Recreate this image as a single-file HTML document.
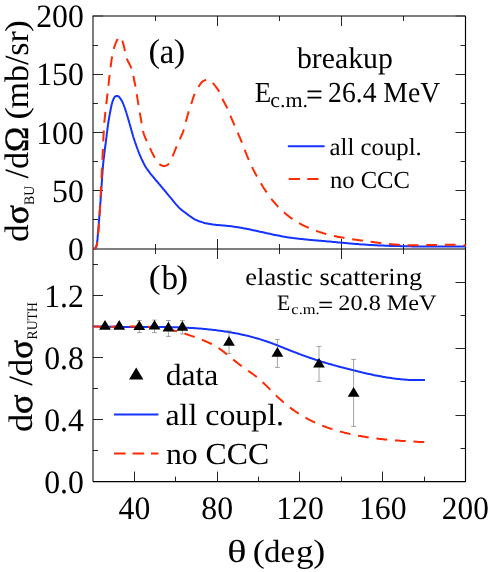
<!DOCTYPE html>
<html><head><meta charset="utf-8"><title>chart</title>
<style>html,body{margin:0;padding:0;background:#fff}svg{display:block;will-change:transform;opacity:0.999}</style></head>
<body>
<svg width="490" height="572" viewBox="0 0 490 572" font-family="'Liberation Serif', serif" fill="#000" text-rendering="geometricPrecision">
<rect width="490" height="572" fill="#fff"/>
<path d="M93.0,219.5H98.0M460.5,219.5H465.5M93.0,190.5H103.0M455.5,190.5H465.5M93.0,161.5H98.0M460.5,161.5H465.5M93.0,132.5H103.0M455.5,132.5H465.5M93.0,103.5H98.0M460.5,103.5H465.5M93.0,74.5H103.0M455.5,74.5H465.5M93.0,45.5H98.0M460.5,45.5H465.5M93.0,450.5H98.0M93.0,419.5H103.0M93.0,388.5H98.0M93.0,357.5H103.0M93.0,326.5H98.0M93.0,295.5H103.0M93.0,264.5H98.0M455.5,282.5H465.5M460.5,315.5H465.5M455.5,348.5H465.5M460.5,381.5H465.5M455.5,415.5H465.5M460.5,448.5H465.5M155.5,16.0V21.0M155.5,244.0V254.0M217.5,16.0V26.0M217.5,239.0V259.0M279.5,16.0V21.0M279.5,244.0V254.0M341.5,16.0V26.0M341.5,239.0V259.0M403.5,16.0V21.0M403.5,244.0V254.0M134.5,471.6V481.6M175.5,476.6V481.6M217.5,471.6V481.6M258.5,476.6V481.6M299.5,471.6V481.6M341.5,476.6V481.6M382.5,471.6V481.6M424.5,476.6V481.6" stroke="#000" stroke-width="0.85" fill="none"/>
<path d="M93.0,16.0H103.0M455.5,16.0H465.5" stroke="#000" stroke-width="1" opacity="0.55" fill="none"/>
<path d="M93.0,481.6V16.0H465.5M93.0,249.0H465.5" stroke="#000" stroke-width="1.02" fill="none"/>
<path d="M465.5,16.0V481.6H93.0" stroke="#000" stroke-width="1.15" fill="none"/>
<g fill="none" stroke-width="2" stroke-linejoin="round">
<path d="M93.5,248.6 L94.6,248.5 L95.4,248.2 L96.0,247.5 L96.4,246.4 L96.6,245.5 L96.8,244.5 L97.0,243.5 L97.1,242.5 L97.2,241.5 L97.4,240.5 L97.5,239.5 L97.6,238.5 L97.6,237.5 L97.7,236.5 L97.8,235.5 L97.9,234.5 L98.0,233.5 L98.0,232.5 L98.1,231.5 L98.2,230.5 L98.3,229.5 L98.4,228.5 L98.4,227.5 L98.5,226.5 L98.6,225.5 L98.7,224.5 L98.8,223.5 L98.8,222.5 L98.9,221.6 L99.0,220.6 L99.1,219.6 L99.2,218.6 L99.2,217.6 L99.3,216.6 L99.4,215.6 L99.5,214.6 L99.6,213.6 L99.6,212.6 L99.7,211.6 L99.8,210.6 L99.9,209.6 L100.0,208.6 L100.0,207.6 L100.1,206.6 L100.2,205.6 L100.3,204.6 L100.3,203.6 L100.4,202.6 L100.5,201.6 L100.6,200.6 L100.6,199.6 L100.7,198.6 L100.8,197.6 L100.8,196.6 L100.9,195.6 L101.0,194.6 L101.0,193.6 L101.1,192.6 L101.2,191.6 L101.2,190.6 L101.3,189.6 L101.4,188.6 L101.5,187.6 L101.5,186.6 L101.6,185.6 L101.7,184.7 L101.7,183.7 L101.8,182.7 L101.9,181.7 L101.9,180.7 L102.0,179.7 L102.1,178.7 L102.1,177.7 L102.2,176.7 L102.3,175.7 L102.3,174.7 L102.4,173.7 L102.5,172.7 L102.5,171.7 L102.6,170.7 L102.7,169.7 L102.8,168.7 L102.9,167.7 L102.9,166.7 L103.0,165.7 L103.1,164.7 L103.2,163.7 L103.3,162.7 L103.4,161.7 L103.5,160.7 L103.6,159.7 L103.7,158.7 L103.9,157.7 L104.0,156.8 L104.1,155.8 L104.2,154.8 L104.3,153.8 L104.4,152.8 L104.6,151.8 L104.7,150.8 L104.8,149.8 L104.9,148.8 L105.1,147.8 L105.2,146.8 L105.3,145.8 L105.5,144.8 L105.6,143.9 L105.7,142.9 L105.9,141.9 L106.0,140.9 L106.1,139.9 L106.2,138.9 L106.3,137.9 L106.5,136.9 L106.6,135.9 L106.7,134.9 L106.8,133.9 L106.9,132.9 L107.1,131.9 L107.2,131.0 L107.3,130.0 L107.5,129.0 L107.6,128.0 L107.7,127.0 L107.9,126.0 L108.0,125.0 L108.1,124.0 L108.3,123.0 L108.4,122.0 L108.6,121.0 L108.7,120.1 L108.9,119.1 L109.1,118.1 L109.2,117.1 L109.4,116.1 L109.6,115.1 L109.8,114.1 L109.9,113.2 L110.1,112.2 L110.3,111.2 L110.5,110.2 L110.7,109.2 L110.9,108.2 L111.1,107.3 L111.3,106.3 L111.5,105.3 L111.7,104.3 L112.0,103.4 L112.3,102.4 L112.6,101.4 L112.9,100.5 L113.3,99.6 L113.7,98.7 L114.2,97.8 L114.7,96.9 L115.5,96.3 L116.4,95.9 L117.4,95.9 L118.3,96.3 L119.1,96.9 L119.7,97.7 L120.3,98.5 L120.9,99.3 L121.4,100.2 L121.9,101.1 L122.4,102.0 L122.8,102.9 L123.2,103.8 L123.6,104.7 L123.9,105.6 L124.3,106.6 L124.6,107.5 L125.0,108.5 L125.3,109.4 L125.6,110.4 L125.9,111.3 L126.2,112.3 L126.5,113.2 L126.8,114.2 L127.1,115.1 L127.4,116.1 L127.7,117.1 L128.0,118.0 L128.2,119.0 L128.5,119.9 L128.8,120.9 L129.1,121.9 L129.3,122.8 L129.6,123.8 L129.9,124.7 L130.2,125.7 L130.4,126.7 L130.7,127.6 L131.0,128.6 L131.2,129.6 L131.5,130.5 L131.8,131.5 L132.0,132.4 L132.3,133.4 L132.6,134.4 L132.9,135.3 L133.1,136.3 L133.4,137.2 L133.7,138.2 L134.0,139.2 L134.4,140.1 L134.7,141.0 L135.0,142.0 L135.3,142.9 L135.7,143.9 L136.0,144.8 L136.3,145.8 L136.7,146.7 L137.0,147.6 L137.4,148.6 L137.7,149.5 L138.1,150.5 L138.4,151.4 L138.8,152.3 L139.1,153.3 L139.5,154.2 L139.9,155.1 L140.3,156.0 L140.7,157.0 L141.1,157.9 L141.5,158.8 L141.9,159.7 L142.3,160.6 L142.8,161.5 L143.2,162.4 L143.7,163.3 L144.1,164.2 L144.6,165.1 L145.1,165.9 L145.6,166.8 L146.1,167.6 L146.7,168.5 L147.3,169.3 L147.8,170.1 L148.4,170.9 L149.0,171.7 L149.6,172.5 L150.2,173.3 L150.8,174.1 L151.5,174.9 L152.1,175.7 L152.7,176.4 L153.4,177.2 L154.0,178.0 L154.6,178.7 L155.3,179.5 L155.9,180.3 L156.6,181.0 L157.3,181.8 L157.9,182.5 L158.6,183.3 L159.2,184.1 L159.9,184.8 L160.5,185.6 L161.1,186.4 L161.8,187.1 L162.4,187.9 L163.0,188.7 L163.7,189.4 L164.3,190.2 L165.0,191.0 L165.6,191.7 L166.2,192.5 L166.9,193.3 L167.5,194.1 L168.2,194.8 L168.8,195.6 L169.4,196.3 L170.1,197.1 L170.7,197.9 L171.4,198.7 L172.0,199.4 L172.6,200.2 L173.3,201.0 L173.9,201.8 L174.6,202.6 L175.2,203.3 L175.8,204.1 L176.5,204.9 L177.2,205.6 L177.8,206.3 L178.5,207.1 L179.2,207.8 L179.9,208.4 L180.7,209.1 L181.4,209.8 L182.2,210.4 L183.0,211.0 L183.8,211.6 L184.6,212.2 L185.4,212.8 L186.2,213.4 L187.0,214.0 L187.8,214.6 L188.6,215.2 L189.4,215.8 L190.3,216.4 L191.1,216.9 L191.9,217.5 L192.7,218.1 L193.6,218.6 L194.4,219.1 L195.3,219.6 L196.2,220.0 L197.1,220.4 L198.0,220.8 L199.0,221.2 L199.9,221.5 L200.9,221.8 L201.8,222.1 L202.8,222.4 L203.7,222.7 L204.7,223.0 L205.7,223.2 L206.6,223.4 L207.6,223.6 L208.6,223.8 L209.6,224.0 L210.6,224.1 L211.6,224.3 L212.6,224.4 L213.6,224.6 L214.5,224.7 L215.5,224.8 L216.5,224.9 L217.5,225.0 L218.5,225.1 L219.5,225.2 L220.5,225.3 L221.5,225.3 L222.5,225.4 L223.5,225.5 L224.5,225.6 L225.5,225.7 L226.5,225.8 L227.5,225.9 L228.5,226.0 L229.5,226.1 L230.5,226.2 L231.5,226.3 L232.5,226.4 L233.4,226.6 L234.4,226.7 L235.4,226.9 L236.4,227.0 L237.4,227.2 L238.4,227.3 L239.4,227.5 L240.4,227.7 L241.3,227.8 L242.3,228.0 L243.3,228.2 L244.3,228.4 L245.3,228.6 L246.3,228.8 L247.2,229.0 L248.2,229.1 L249.2,229.3 L250.2,229.6 L251.2,229.8 L252.1,230.0 L253.1,230.2 L254.1,230.4 L255.1,230.6 L256.0,230.8 L257.0,231.0 L258.0,231.2 L259.0,231.4 L260.0,231.7 L260.9,231.9 L261.9,232.1 L262.9,232.3 L263.9,232.5 L264.8,232.7 L265.8,233.0 L266.8,233.2 L267.8,233.4 L268.7,233.6 L269.7,233.8 L270.7,234.0 L271.7,234.2 L272.7,234.4 L273.6,234.7 L274.6,234.9 L275.6,235.1 L276.6,235.3 L277.6,235.5 L278.5,235.6 L279.5,235.8 L280.5,236.0 L281.5,236.2 L282.5,236.4 L283.4,236.6 L284.4,236.7 L285.4,236.9 L286.4,237.1 L287.4,237.2 L288.4,237.4 L289.4,237.5 L290.4,237.7 L291.4,237.8 L292.3,237.9 L293.3,238.1 L294.3,238.2 L295.3,238.3 L296.3,238.5 L297.3,238.6 L298.3,238.7 L299.3,238.8 L300.3,238.9 L301.3,239.0 L302.3,239.1 L303.3,239.2 L304.3,239.3 L305.3,239.4 L306.3,239.5 L307.2,239.6 L308.2,239.7 L309.2,239.8 L310.2,239.9 L311.2,240.0 L312.2,240.1 L313.2,240.2 L314.2,240.2 L315.2,240.3 L316.2,240.4 L317.2,240.5 L318.2,240.6 L319.2,240.7 L320.2,240.8 L321.2,240.8 L322.2,240.9 L323.2,241.0 L324.2,241.1 L325.2,241.2 L326.2,241.3 L327.2,241.4 L328.2,241.4 L329.2,241.5 L330.2,241.6 L331.2,241.7 L332.2,241.8 L333.1,241.9 L334.1,242.0 L335.1,242.1 L336.1,242.2 L337.1,242.3 L338.1,242.4 L339.1,242.5 L340.1,242.6 L341.1,242.7 L342.1,242.8 L343.1,242.8 L344.1,242.9 L345.1,243.0 L346.1,243.1 L347.1,243.2 L348.1,243.3 L349.1,243.4 L350.1,243.5 L351.1,243.6 L352.1,243.7 L353.1,243.7 L354.1,243.8 L355.1,243.9 L356.1,244.0 L357.0,244.1 L358.0,244.1 L359.0,244.2 L360.0,244.3 L361.0,244.4 L362.0,244.4 L363.0,244.5 L364.0,244.6 L365.0,244.6 L366.0,244.7 L367.0,244.8 L368.0,244.8 L369.0,244.9 L370.0,244.9 L371.0,245.0 L372.0,245.1 L373.0,245.1 L374.0,245.2 L375.0,245.2 L376.0,245.3 L377.0,245.3 L378.0,245.4 L379.0,245.4 L380.0,245.5 L381.0,245.5 L382.0,245.6 L383.0,245.6 L384.0,245.6 L385.0,245.7 L386.0,245.7 L387.0,245.8 L388.0,245.8 L389.0,245.8 L390.0,245.9 L391.0,245.9 L392.0,245.9 L393.0,246.0 L394.0,246.0 L395.0,246.0 L396.0,246.0 L397.0,246.1 L398.0,246.1 L399.0,246.1 L400.0,246.1 L401.0,246.2 L402.0,246.2 L403.0,246.2 L404.0,246.2 L405.0,246.2 L406.0,246.3 L407.0,246.3 L408.0,246.3 L409.0,246.3 L410.0,246.3 L411.0,246.3 L412.0,246.4 L413.0,246.4 L414.0,246.4 L415.0,246.4 L416.0,246.4 L417.0,246.4 L418.0,246.4 L419.0,246.4 L420.0,246.4 L421.0,246.4 L422.0,246.4 L423.0,246.5 L424.0,246.5 L425.0,246.5 L426.0,246.5 L427.0,246.5 L428.0,246.5 L429.0,246.5 L430.0,246.5 L431.0,246.5 L432.0,246.5 L433.0,246.5 L434.0,246.5 L435.0,246.5 L436.0,246.5 L437.0,246.5 L438.0,246.5 L439.0,246.5 L440.0,246.5 L441.0,246.5 L442.0,246.5 L443.0,246.5 L444.0,246.5 L445.0,246.5 L446.0,246.5 L447.0,246.5 L448.0,246.4 L449.0,246.4 L450.0,246.4 L451.0,246.4 L452.0,246.4 L453.0,246.4 L454.0,246.4 L455.0,246.4 L456.0,246.4 L457.0,246.4 L458.0,246.4 L459.0,246.4 L460.0,246.4 L461.0,246.4 L462.0,246.4 L463.0,246.4 L464.0,246.4 L465.0,246.4 L466.0,246.3" stroke="#1533ff"/>
<path d="M93.5,248.6 L94.6,248.5 L95.4,248.2 L96.0,247.5 L96.4,246.4 L96.6,245.5 L96.9,244.5 L97.1,243.5 L97.2,242.6 L97.4,241.6 L97.5,240.6 L97.6,239.5 L97.7,238.5 L97.8,237.5 L97.9,236.5 L98.0,235.5 L98.1,234.5 L98.2,233.5 L98.3,232.6 L98.4,231.6 L98.5,230.6 L98.6,229.6 L98.7,228.6 L98.8,227.6 L98.8,226.6 L98.9,225.6 L99.0,224.6 L99.0,223.6 L99.1,222.6 L99.2,221.6 L99.2,220.6 L99.3,219.6 L99.4,218.6 L99.4,217.6 L99.5,216.6 L99.6,215.6 L99.6,214.6 L99.7,213.6 L99.7,212.6 L99.8,211.6 L99.8,210.6 L99.9,209.6 L100.0,208.6 L100.0,207.6 L100.1,206.6 L100.1,205.6 L100.2,204.6 L100.3,203.6 L100.3,202.6 L100.4,201.6 L100.4,200.6 L100.5,199.6 L100.5,198.6 L100.6,197.6 L100.6,196.6 L100.7,195.6 L100.7,194.6 L100.8,193.6 L100.8,192.6 L100.9,191.6 L100.9,190.6 L101.0,189.6 L101.0,188.6 L101.1,187.6 L101.1,186.6 L101.2,185.6 L101.2,184.6 L101.2,183.6 L101.3,182.6 L101.3,181.6 L101.4,180.6 L101.4,179.6 L101.5,178.6 L101.5,177.6 L101.6,176.6 L101.6,175.6 L101.7,174.6 L101.7,173.6 L101.8,172.6 L101.8,171.6 L101.9,170.6 L101.9,169.7 L102.0,168.7 L102.0,167.7 L102.1,166.7 L102.1,165.7 L102.2,164.7 L102.2,163.7 L102.3,162.7 L102.3,161.7 L102.4,160.7 L102.4,159.7 L102.4,158.7 L102.5,157.7 L102.5,156.7 L102.6,155.7 L102.6,154.7 L102.7,153.7 L102.7,152.7 L102.8,151.7 L102.8,150.7 L102.9,149.7 L102.9,148.7 L102.9,147.7 L103.0,146.7 L103.0,145.7 L103.1,144.7 L103.1,143.7 L103.2,142.7 L103.2,141.7 L103.3,140.7 L103.3,139.7 L103.4,138.7 L103.4,137.7 L103.5,136.7 L103.5,135.7 L103.6,134.7 L103.7,133.7 L103.7,132.7 L103.8,131.7 L103.8,130.7 L103.9,129.7 L103.9,128.7 L104.0,127.7 L104.1,126.7 L104.1,125.7 L104.2,124.7 L104.3,123.7 L104.3,122.7 L104.4,121.7 L104.5,120.7 L104.6,119.7 L104.7,118.7 L104.8,117.7 L104.9,116.7 L105.0,115.7 L105.1,114.7 L105.2,113.8 L105.3,112.8 L105.4,111.8 L105.5,110.8 L105.6,109.8 L105.7,108.8 L105.8,107.8 L106.0,106.8 L106.1,105.8 L106.2,104.8 L106.3,103.8 L106.4,102.8 L106.6,101.8 L106.7,100.8 L106.8,99.8 L106.9,98.8 L107.0,97.9 L107.1,96.9 L107.2,95.9 L107.3,94.9 L107.5,93.9 L107.6,92.9 L107.7,91.9 L107.8,90.9 L107.9,89.9 L108.0,88.9 L108.1,87.9 L108.2,86.9 L108.3,85.9 L108.5,84.9 L108.6,83.9 L108.7,82.9 L108.8,82.0 L108.9,81.0 L109.0,80.0 L109.1,79.0 L109.3,78.0 L109.4,77.0 L109.5,76.0 L109.6,75.0 L109.7,74.0 L109.9,73.0 L110.0,72.0 L110.1,71.0 L110.2,70.0 L110.4,69.0 L110.5,68.1 L110.6,67.1 L110.7,66.1 L110.9,65.1 L111.0,64.1 L111.1,63.1 L111.3,62.1 L111.4,61.1 L111.5,60.1 L111.7,59.1 L111.9,58.1 L112.0,57.2 L112.2,56.2 L112.4,55.2 L112.6,54.2 L112.8,53.2 L113.0,52.3 L113.2,51.3 L113.4,50.3 L113.7,49.3 L114.0,48.4 L114.2,47.4 L114.5,46.4 L114.8,45.5 L115.2,44.6 L115.5,43.6 L115.9,42.7 L116.3,41.7 L116.7,40.8 L117.2,39.9 L117.7,39.1 L118.2,38.3 L118.9,37.5 L119.7,36.9 L120.6,37.0 L121.3,37.7 L121.7,38.6 L122.0,39.6 L122.3,40.6 L122.6,41.6 L122.9,42.5 L123.2,43.5 L123.4,44.4 L123.7,45.4 L123.9,46.4 L124.1,47.4 L124.4,48.3 L124.6,49.3 L124.8,50.3 L125.0,51.3 L125.2,52.3 L125.4,53.3 L125.7,54.2 L125.9,55.2 L126.1,56.2 L126.4,57.1 L126.7,58.1 L127.0,59.0 L127.3,59.9 L127.8,60.8 L128.2,61.7 L128.7,62.6 L129.2,63.5 L129.6,64.4 L130.1,65.3 L130.5,66.2 L130.9,67.1 L131.2,68.1 L131.5,69.0 L131.8,70.0 L132.0,70.9 L132.3,71.9 L132.6,72.8 L132.8,73.8 L133.0,74.8 L133.3,75.8 L133.5,76.8 L133.7,77.7 L133.9,78.7 L134.1,79.7 L134.3,80.7 L134.5,81.7 L134.7,82.7 L134.9,83.6 L135.1,84.6 L135.3,85.6 L135.5,86.6 L135.7,87.6 L135.8,88.6 L136.0,89.5 L136.2,90.5 L136.3,91.5 L136.5,92.5 L136.6,93.5 L136.8,94.5 L137.0,95.5 L137.1,96.5 L137.3,97.4 L137.4,98.4 L137.6,99.4 L137.7,100.4 L137.9,101.4 L138.1,102.4 L138.2,103.4 L138.4,104.4 L138.6,105.3 L138.7,106.3 L138.9,107.3 L139.1,108.3 L139.2,109.3 L139.4,110.3 L139.6,111.3 L139.7,112.2 L139.9,113.2 L140.1,114.2 L140.3,115.2 L140.4,116.2 L140.6,117.2 L140.8,118.2 L140.9,119.1 L141.1,120.1 L141.3,121.1 L141.4,122.1 L141.6,123.1 L141.8,124.1 L141.9,125.1 L142.1,126.1 L142.2,127.0 L142.4,128.0 L142.6,129.0 L142.8,130.0 L143.0,131.0 L143.2,131.9 L143.5,132.9 L143.8,133.8 L144.1,134.8 L144.4,135.7 L144.8,136.6 L145.2,137.6 L145.6,138.5 L146.0,139.4 L146.4,140.3 L146.8,141.2 L147.2,142.2 L147.7,143.1 L148.1,144.0 L148.5,144.9 L149.0,145.8 L149.4,146.7 L149.8,147.6 L150.2,148.5 L150.7,149.4 L151.1,150.3 L151.5,151.3 L151.9,152.2 L152.4,153.1 L152.8,154.0 L153.3,154.9 L153.8,155.8 L154.2,156.6 L154.7,157.5 L155.3,158.3 L155.8,159.2 L156.3,160.0 L156.9,160.9 L157.5,161.7 L158.1,162.6 L158.8,163.4 L159.5,164.1 L160.2,164.6 L161.0,165.1 L162.0,165.5 L163.0,165.9 L164.0,166.0 L164.9,165.9 L166.0,165.6 L166.9,165.2 L167.7,164.8 L168.3,164.1 L169.0,163.2 L169.5,162.3 L170.0,161.4 L170.5,160.6 L171.0,159.7 L171.4,158.8 L171.9,157.9 L172.3,157.0 L172.7,156.1 L173.1,155.2 L173.5,154.2 L173.8,153.3 L174.2,152.4 L174.6,151.4 L174.9,150.5 L175.3,149.6 L175.7,148.6 L176.1,147.7 L176.5,146.8 L176.9,145.9 L177.3,145.0 L177.7,144.1 L178.1,143.1 L178.6,142.2 L179.0,141.3 L179.4,140.4 L179.7,139.5 L180.1,138.6 L180.5,137.6 L181.0,136.7 L181.4,135.8 L181.8,134.9 L182.2,134.0 L182.6,133.1 L182.9,132.1 L183.3,131.2 L183.6,130.3 L183.9,129.3 L184.2,128.4 L184.4,127.4 L184.7,126.4 L184.9,125.4 L185.2,124.5 L185.4,123.5 L185.7,122.5 L185.9,121.6 L186.2,120.6 L186.4,119.6 L186.7,118.7 L186.9,117.7 L187.2,116.7 L187.5,115.8 L187.7,114.8 L188.0,113.8 L188.3,112.9 L188.6,111.9 L188.9,111.0 L189.2,110.0 L189.5,109.1 L189.8,108.1 L190.1,107.2 L190.4,106.2 L190.7,105.3 L191.1,104.3 L191.4,103.4 L191.7,102.4 L192.0,101.5 L192.3,100.5 L192.6,99.6 L192.9,98.6 L193.3,97.7 L193.6,96.7 L193.9,95.8 L194.3,94.8 L194.7,93.9 L195.1,93.0 L195.5,92.1 L196.0,91.2 L196.4,90.3 L196.9,89.4 L197.4,88.6 L197.9,87.7 L198.5,86.9 L199.0,86.0 L199.5,85.2 L200.1,84.3 L200.7,83.5 L201.4,82.7 L202.0,82.0 L202.8,81.4 L203.6,80.9 L204.6,80.4 L205.5,80.1 L206.5,79.9 L207.5,79.7 L208.5,79.7 L209.4,80.0 L210.3,80.5 L211.1,81.1 L211.8,81.8 L212.5,82.6 L213.1,83.4 L213.8,84.1 L214.4,84.9 L215.1,85.7 L215.7,86.5 L216.3,87.3 L216.9,88.1 L217.5,88.9 L218.0,89.7 L218.5,90.6 L219.0,91.4 L219.5,92.3 L219.9,93.2 L220.3,94.1 L220.7,95.0 L221.1,96.0 L221.5,96.9 L221.9,97.8 L222.3,98.7 L222.8,99.6 L223.2,100.5 L223.7,101.4 L224.2,102.3 L224.6,103.2 L225.1,104.0 L225.6,104.9 L226.1,105.8 L226.5,106.7 L227.0,107.6 L227.4,108.5 L227.8,109.4 L228.2,110.3 L228.6,111.2 L229.0,112.2 L229.3,113.1 L229.7,114.0 L230.1,114.9 L230.5,115.9 L230.9,116.8 L231.3,117.7 L231.6,118.6 L232.0,119.5 L232.4,120.5 L232.8,121.4 L233.2,122.3 L233.6,123.2 L234.0,124.1 L234.4,125.1 L234.8,126.0 L235.2,126.9 L235.6,127.8 L236.0,128.7 L236.4,129.6 L236.8,130.6 L237.2,131.5 L237.6,132.4 L238.0,133.3 L238.4,134.2 L238.8,135.1 L239.2,136.1 L239.6,137.0 L240.0,137.9 L240.4,138.8 L240.8,139.7 L241.1,140.7 L241.5,141.6 L241.9,142.5 L242.3,143.4 L242.7,144.4 L243.0,145.3 L243.4,146.2 L243.7,147.2 L244.1,148.1 L244.4,149.0 L244.8,150.0 L245.2,150.9 L245.5,151.8 L245.9,152.8 L246.2,153.7 L246.6,154.6 L247.0,155.6 L247.4,156.5 L247.7,157.4 L248.1,158.3 L248.5,159.2 L248.9,160.2 L249.3,161.1 L249.7,162.0 L250.1,162.9 L250.6,163.8 L251.0,164.7 L251.4,165.6 L251.8,166.5 L252.3,167.4 L252.7,168.4 L253.1,169.2 L253.6,170.1 L254.0,171.0 L254.5,171.9 L254.9,172.8 L255.4,173.7 L255.9,174.6 L256.4,175.5 L256.8,176.3 L257.3,177.2 L257.8,178.1 L258.3,178.9 L258.8,179.8 L259.3,180.7 L259.8,181.5 L260.3,182.4 L260.8,183.3 L261.4,184.1 L261.9,185.0 L262.4,185.8 L262.9,186.7 L263.4,187.5 L264.0,188.4 L264.5,189.2 L265.1,190.0 L265.6,190.9 L266.2,191.7 L266.8,192.5 L267.3,193.4 L267.9,194.2 L268.5,195.0 L269.1,195.8 L269.7,196.6 L270.3,197.4 L270.9,198.2 L271.5,199.0 L272.1,199.8 L272.7,200.5 L273.4,201.3 L274.0,202.1 L274.7,202.8 L275.3,203.6 L276.0,204.4 L276.6,205.1 L277.3,205.8 L278.0,206.6 L278.7,207.3 L279.4,208.0 L280.1,208.7 L280.8,209.4 L281.5,210.1 L282.3,210.8 L283.0,211.5 L283.7,212.1 L284.5,212.8 L285.3,213.4 L286.0,214.1 L286.8,214.7 L287.6,215.4 L288.4,216.0 L289.1,216.6 L289.9,217.2 L290.8,217.8 L291.6,218.4 L292.4,218.9 L293.2,219.5 L294.0,220.1 L294.9,220.6 L295.7,221.1 L296.6,221.7 L297.4,222.2 L298.3,222.7 L299.2,223.2 L300.0,223.7 L300.9,224.1 L301.8,224.6 L302.7,225.1 L303.6,225.5 L304.5,226.0 L305.4,226.4 L306.3,226.8 L307.2,227.2 L308.1,227.6 L309.0,228.0 L310.0,228.4 L310.9,228.8 L311.8,229.2 L312.7,229.6 L313.7,229.9 L314.6,230.3 L315.5,230.6 L316.5,230.9 L317.4,231.3 L318.4,231.6 L319.3,231.9 L320.3,232.2 L321.2,232.5 L322.2,232.8 L323.1,233.1 L324.1,233.4 L325.1,233.7 L326.0,233.9 L327.0,234.2 L328.0,234.5 L328.9,234.7 L329.9,235.0 L330.9,235.2 L331.8,235.4 L332.8,235.6 L333.8,235.9 L334.8,236.1 L335.7,236.3 L336.7,236.5 L337.7,236.7 L338.7,236.9 L339.7,237.1 L340.6,237.3 L341.6,237.5 L342.6,237.6 L343.6,237.8 L344.6,238.0 L345.6,238.2 L346.5,238.3 L347.5,238.5 L348.5,238.6 L349.5,238.8 L350.5,238.9 L351.5,239.1 L352.5,239.2 L353.5,239.4 L354.5,239.5 L355.4,239.7 L356.4,239.8 L357.4,239.9 L358.4,240.1 L359.4,240.2 L360.4,240.4 L361.4,240.5 L362.4,240.6 L363.4,240.8 L364.4,240.9 L365.4,241.0 L366.3,241.2 L367.3,241.3 L368.3,241.4 L369.3,241.6 L370.3,241.7 L371.3,241.8 L372.3,242.0 L373.3,242.1 L374.3,242.2 L375.3,242.4 L376.3,242.5 L377.2,242.6 L378.2,242.8 L379.2,242.9 L380.2,243.0 L381.2,243.1 L382.2,243.2 L383.2,243.4 L384.2,243.5 L385.2,243.6 L386.2,243.7 L387.2,243.8 L388.2,243.9 L389.2,244.0 L390.2,244.1 L391.2,244.2 L392.2,244.3 L393.1,244.4 L394.1,244.5 L395.1,244.6 L396.1,244.6 L397.1,244.7 L398.1,244.8 L399.1,244.8 L400.1,244.9 L401.1,245.0 L402.1,245.0 L403.1,245.0 L404.1,245.1 L405.1,245.1 L406.1,245.2 L407.1,245.2 L408.1,245.2 L409.1,245.2 L410.1,245.2 L411.1,245.3 L412.1,245.3 L413.1,245.3 L414.1,245.3 L415.1,245.3 L416.1,245.3 L417.1,245.3 L418.1,245.3 L419.1,245.3 L420.1,245.2 L421.1,245.2 L422.1,245.2 L423.1,245.2 L424.1,245.2 L425.1,245.2 L426.1,245.1 L427.1,245.1 L428.1,245.1 L429.1,245.1 L430.1,245.1 L431.1,245.0 L432.1,245.0 L433.1,245.0 L434.1,245.0 L435.1,244.9 L436.1,244.9 L437.1,244.9 L438.1,244.9 L439.1,244.9 L440.1,244.8 L441.1,244.8 L442.1,244.8 L443.1,244.8 L444.1,244.8 L445.1,244.8 L446.1,244.8 L447.1,244.8 L448.1,244.8 L449.1,244.8 L450.1,244.8 L451.1,244.8 L452.1,244.8 L453.1,244.8 L454.1,244.8 L455.1,244.8 L456.1,244.8 L457.1,244.9 L458.1,244.9 L459.1,244.9 L460.1,245.0 L461.1,245.0 L462.1,245.1 L463.1,245.1 L464.1,245.2 L465.1,245.2 L466.0,245.3" stroke="#ff2a00" stroke-dasharray="10.8 7.82" stroke-dashoffset="2.15"/>
<path d="M93.5,326.4 L94.5,326.4 L95.5,326.5 L96.5,326.5 L97.5,326.5 L98.5,326.6 L99.5,326.6 L100.5,326.6 L101.5,326.6 L102.5,326.6 L103.5,326.7 L104.5,326.7 L105.5,326.7 L106.5,326.7 L107.5,326.7 L108.5,326.8 L109.5,326.8 L110.5,326.8 L111.5,326.8 L112.5,326.8 L113.5,326.8 L114.5,326.8 L115.5,326.8 L116.5,326.8 L117.5,326.8 L118.5,326.8 L119.5,326.9 L120.5,326.9 L121.5,326.9 L122.5,326.9 L123.5,326.9 L124.5,326.9 L125.5,326.9 L126.5,326.9 L127.5,326.9 L128.5,326.9 L129.5,326.9 L130.5,326.9 L131.5,326.9 L132.5,326.9 L133.5,326.9 L134.5,326.9 L135.5,326.9 L136.5,326.9 L137.5,326.9 L138.5,326.9 L139.5,326.9 L140.5,326.9 L141.5,326.9 L142.5,326.9 L143.5,326.9 L144.5,326.9 L145.5,326.9 L146.5,326.9 L147.5,326.9 L148.5,326.9 L149.5,326.9 L150.5,326.9 L151.5,326.9 L152.5,326.9 L153.5,326.9 L154.5,326.9 L155.5,326.9 L156.5,326.9 L157.5,326.9 L158.5,327.0 L159.5,327.0 L160.5,327.0 L161.5,327.0 L162.5,327.0 L163.5,327.0 L164.5,327.0 L165.5,327.1 L166.5,327.1 L167.5,327.1 L168.5,327.1 L169.5,327.1 L170.5,327.2 L171.5,327.2 L172.5,327.2 L173.5,327.2 L174.5,327.3 L175.5,327.3 L176.5,327.3 L177.5,327.3 L178.5,327.4 L179.5,327.4 L180.5,327.5 L181.5,327.5 L182.5,327.5 L183.5,327.6 L184.5,327.6 L185.5,327.7 L186.5,327.7 L187.5,327.8 L188.5,327.8 L189.5,327.9 L190.5,327.9 L191.5,328.0 L192.5,328.1 L193.5,328.1 L194.5,328.2 L195.5,328.3 L196.5,328.3 L197.5,328.4 L198.5,328.5 L199.5,328.5 L200.5,328.6 L201.5,328.7 L202.5,328.8 L203.5,328.9 L204.5,329.0 L205.5,329.1 L206.5,329.2 L207.5,329.3 L208.5,329.4 L209.5,329.5 L210.5,329.6 L211.5,329.7 L212.5,329.8 L213.5,329.9 L214.5,330.0 L215.5,330.1 L216.5,330.3 L217.5,330.4 L218.5,330.5 L219.5,330.7 L220.5,330.8 L221.5,330.9 L222.5,331.1 L223.5,331.2 L224.5,331.4 L225.5,331.5 L226.5,331.7 L227.5,331.8 L228.5,332.0 L229.5,332.2 L230.5,332.3 L231.5,332.5 L232.5,332.7 L233.5,332.9 L234.5,333.1 L235.5,333.2 L236.5,333.4 L237.5,333.6 L238.5,333.8 L239.5,334.0 L240.5,334.3 L241.5,334.5 L242.5,334.7 L243.5,334.9 L244.5,335.1 L245.5,335.4 L246.5,335.6 L247.5,335.8 L248.5,336.1 L249.5,336.3 L250.5,336.6 L251.5,336.9 L252.5,337.1 L253.5,337.4 L254.5,337.7 L255.5,337.9 L256.5,338.2 L257.5,338.5 L258.5,338.8 L259.5,339.1 L260.5,339.4 L261.5,339.7 L262.5,340.0 L263.5,340.4 L264.5,340.7 L265.5,341.0 L266.5,341.3 L267.5,341.7 L268.5,342.0 L269.5,342.4 L270.5,342.8 L271.5,343.1 L272.5,343.5 L273.5,343.9 L274.5,344.2 L275.5,344.6 L276.5,345.0 L277.5,345.4 L278.5,345.8 L279.5,346.2 L280.5,346.6 L281.5,347.0 L282.5,347.4 L283.5,347.8 L284.5,348.2 L285.5,348.6 L286.5,349.0 L287.5,349.4 L288.5,349.8 L289.5,350.2 L290.5,350.6 L291.5,351.0 L292.5,351.4 L293.5,351.8 L294.5,352.1 L295.5,352.5 L296.5,352.9 L297.5,353.3 L298.5,353.7 L299.5,354.1 L300.5,354.4 L301.5,354.8 L302.5,355.2 L303.5,355.5 L304.5,355.9 L305.5,356.3 L306.5,356.6 L307.5,357.0 L308.5,357.3 L309.5,357.7 L310.5,358.0 L311.5,358.3 L312.5,358.7 L313.5,359.0 L314.5,359.3 L315.5,359.7 L316.5,360.0 L317.5,360.3 L318.5,360.6 L319.5,360.9 L320.5,361.2 L321.5,361.6 L322.5,361.9 L323.5,362.2 L324.5,362.5 L325.5,362.8 L326.5,363.1 L327.5,363.4 L328.5,363.7 L329.5,363.9 L330.5,364.2 L331.5,364.5 L332.5,364.8 L333.5,365.1 L334.5,365.4 L335.5,365.6 L336.5,365.9 L337.5,366.2 L338.5,366.5 L339.5,366.7 L340.5,367.0 L341.5,367.3 L342.5,367.5 L343.5,367.8 L344.5,368.1 L345.5,368.3 L346.5,368.6 L347.5,368.8 L348.5,369.1 L349.5,369.3 L350.5,369.6 L351.5,369.8 L352.5,370.1 L353.5,370.3 L354.5,370.6 L355.5,370.8 L356.5,371.1 L357.5,371.3 L358.5,371.6 L359.5,371.8 L360.5,372.0 L361.5,372.3 L362.5,372.5 L363.5,372.8 L364.5,373.0 L365.5,373.2 L366.5,373.4 L367.5,373.7 L368.5,373.9 L369.5,374.1 L370.5,374.3 L371.5,374.5 L372.5,374.7 L373.5,375.0 L374.5,375.2 L375.5,375.4 L376.5,375.6 L377.5,375.8 L378.5,376.0 L379.5,376.1 L380.5,376.3 L381.5,376.5 L382.5,376.7 L383.5,376.9 L384.5,377.0 L385.5,377.2 L386.5,377.4 L387.5,377.5 L388.5,377.7 L389.5,377.8 L390.5,378.0 L391.5,378.1 L392.5,378.3 L393.5,378.4 L394.5,378.5 L395.5,378.7 L396.5,378.8 L397.5,378.9 L398.5,379.0 L399.5,379.1 L400.5,379.2 L401.5,379.3 L402.5,379.4 L403.5,379.5 L404.5,379.6 L405.5,379.7 L406.5,379.7 L407.5,379.8 L408.5,379.9 L409.5,379.9 L410.5,380.0 L411.5,380.0 L412.5,380.0 L413.5,380.1 L414.5,380.1 L415.5,380.1 L416.5,380.1 L417.5,380.1 L418.5,380.1 L419.5,380.1 L420.5,380.1 L421.5,380.1 L422.5,380.0 L423.5,380.0 L425.0,379.9" stroke="#1533ff"/>
<path d="M93.5,326.5 L94.5,326.6 L95.5,326.6 L96.5,326.6 L97.5,326.6 L98.5,326.7 L99.5,326.7 L100.5,326.7 L101.5,326.7 L102.5,326.7 L103.5,326.7 L104.5,326.7 L105.5,326.7 L106.5,326.7 L107.5,326.7 L108.5,326.7 L109.5,326.7 L110.5,326.7 L111.5,326.7 L112.5,326.7 L113.5,326.7 L114.5,326.6 L115.5,326.6 L116.5,326.6 L117.5,326.6 L118.5,326.6 L119.5,326.6 L120.5,326.5 L121.5,326.5 L122.5,326.5 L123.5,326.5 L124.5,326.5 L125.5,326.5 L126.5,326.5 L127.5,326.5 L128.5,326.4 L129.5,326.4 L130.5,326.4 L131.5,326.4 L132.5,326.4 L133.5,326.4 L134.5,326.4 L135.5,326.4 L136.5,326.4 L137.5,326.5 L138.5,326.5 L139.5,326.5 L140.5,326.5 L141.5,326.5 L142.5,326.6 L143.5,326.6 L144.5,326.6 L145.5,326.7 L146.5,326.7 L147.5,326.8 L148.5,326.8 L149.5,326.9 L150.5,327.0 L151.5,327.1 L152.5,327.1 L153.5,327.2 L154.5,327.3 L155.5,327.4 L156.5,327.5 L157.5,327.6 L158.5,327.7 L159.5,327.9 L160.5,328.0 L161.5,328.1 L162.5,328.3 L163.5,328.4 L164.5,328.6 L165.5,328.8 L166.5,328.9 L167.5,329.1 L168.5,329.3 L169.5,329.5 L170.5,329.7 L171.5,329.9 L172.5,330.2 L173.5,330.4 L174.5,330.7 L175.5,330.9 L176.5,331.2 L177.5,331.4 L178.5,331.7 L179.5,332.0 L180.5,332.3 L181.5,332.6 L182.5,332.9 L183.5,333.2 L184.5,333.5 L185.5,333.9 L186.5,334.2 L187.5,334.5 L188.5,334.9 L189.5,335.2 L190.5,335.6 L191.5,335.9 L192.5,336.3 L193.5,336.6 L194.5,337.0 L195.5,337.3 L196.5,337.7 L197.5,338.1 L198.5,338.4 L199.5,338.8 L200.5,339.2 L201.5,339.6 L202.5,340.0 L203.5,340.4 L204.5,340.8 L205.5,341.2 L206.5,341.7 L207.5,342.1 L208.5,342.6 L209.5,343.0 L210.5,343.5 L211.5,344.0 L212.5,344.5 L213.5,345.1 L214.5,345.6 L215.5,346.2 L216.5,346.8 L217.5,347.4 L218.5,348.1 L219.5,348.7 L220.5,349.4 L221.5,350.1 L222.5,350.9 L223.5,351.6 L224.5,352.4 L225.5,353.2 L226.5,354.0 L227.5,354.8 L228.5,355.6 L229.5,356.4 L230.5,357.3 L231.5,358.1 L232.5,358.9 L233.5,359.8 L234.5,360.6 L235.5,361.4 L236.5,362.2 L237.5,363.0 L238.5,363.8 L239.5,364.6 L240.5,365.3 L241.5,366.1 L242.5,366.8 L243.5,367.5 L244.5,368.2 L245.5,368.9 L246.5,369.6 L247.5,370.3 L248.5,371.0 L249.5,371.7 L250.5,372.4 L251.5,373.1 L252.5,373.8 L253.5,374.5 L254.5,375.3 L255.5,376.0 L256.5,376.8 L257.5,377.6 L258.5,378.5 L259.5,379.3 L260.5,380.2 L261.5,381.1 L262.5,382.1 L263.5,383.0 L264.5,384.0 L265.5,384.9 L266.5,385.9 L267.5,386.9 L268.5,387.9 L269.5,388.9 L270.5,389.9 L271.5,390.9 L272.5,391.9 L273.5,392.9 L274.5,393.9 L275.5,394.9 L276.5,395.9 L277.5,396.9 L278.5,397.8 L279.5,398.7 L280.5,399.6 L281.5,400.5 L282.5,401.4 L283.5,402.3 L284.5,403.1 L285.5,404.0 L286.5,404.8 L287.5,405.6 L288.5,406.4 L289.5,407.1 L290.5,407.9 L291.5,408.6 L292.5,409.4 L293.5,410.1 L294.5,410.8 L295.5,411.5 L296.5,412.2 L297.5,412.8 L298.5,413.5 L299.5,414.1 L300.5,414.7 L301.5,415.4 L302.5,416.0 L303.5,416.5 L304.5,417.1 L305.5,417.7 L306.5,418.2 L307.5,418.8 L308.5,419.3 L309.5,419.8 L310.5,420.3 L311.5,420.8 L312.5,421.3 L313.5,421.8 L314.5,422.3 L315.5,422.7 L316.5,423.2 L317.5,423.6 L318.5,424.1 L319.5,424.5 L320.5,424.9 L321.5,425.3 L322.5,425.7 L323.5,426.1 L324.5,426.5 L325.5,426.8 L326.5,427.2 L327.5,427.6 L328.5,427.9 L329.5,428.3 L330.5,428.6 L331.5,428.9 L332.5,429.2 L333.5,429.6 L334.5,429.9 L335.5,430.2 L336.5,430.5 L337.5,430.8 L338.5,431.0 L339.5,431.3 L340.5,431.6 L341.5,431.9 L342.5,432.1 L343.5,432.4 L344.5,432.7 L345.5,432.9 L346.5,433.1 L347.5,433.4 L348.5,433.6 L349.5,433.9 L350.5,434.1 L351.5,434.3 L352.5,434.5 L353.5,434.7 L354.5,434.9 L355.5,435.1 L356.5,435.3 L357.5,435.5 L358.5,435.7 L359.5,435.9 L360.5,436.1 L361.5,436.3 L362.5,436.5 L363.5,436.6 L364.5,436.8 L365.5,437.0 L366.5,437.1 L367.5,437.3 L368.5,437.4 L369.5,437.6 L370.5,437.7 L371.5,437.9 L372.5,438.0 L373.5,438.1 L374.5,438.3 L375.5,438.4 L376.5,438.5 L377.5,438.6 L378.5,438.8 L379.5,438.9 L380.5,439.0 L381.5,439.1 L382.5,439.2 L383.5,439.3 L384.5,439.4 L385.5,439.5 L386.5,439.6 L387.5,439.7 L388.5,439.8 L389.5,439.9 L390.5,440.0 L391.5,440.1 L392.5,440.2 L393.5,440.3 L394.5,440.3 L395.5,440.4 L396.5,440.5 L397.5,440.6 L398.5,440.6 L399.5,440.7 L400.5,440.8 L401.5,440.9 L402.5,440.9 L403.5,441.0 L404.5,441.1 L405.5,441.1 L406.5,441.2 L407.5,441.2 L408.5,441.3 L409.5,441.4 L410.5,441.4 L411.5,441.5 L412.5,441.5 L413.5,441.6 L414.5,441.6 L415.5,441.7 L416.5,441.7 L417.5,441.8 L418.5,441.9 L419.5,441.9 L420.5,442.0 L421.5,442.0 L422.5,442.1 L423.5,442.1 L425.0,442.2" stroke="#ff2a00" stroke-dasharray="10.8 7.81" stroke-dashoffset="1.3"/>
<path d="M288.7,146.2H323.8" stroke="#1533ff" stroke-linecap="round"/>
<path d="M288.7,179H323.8" stroke="#ff2a00" stroke-dasharray="11.2 7.4"/>
<path d="M114,414.4H158.4" stroke="#1533ff"/>
<path d="M114,453.4H158.4" stroke="#ff2a00" stroke-dasharray="11.6 6.9"/>
</g>
<path d="M139.3,320.5V332.6M136.9,320.5h4.8M136.9,332.6h4.8M154.5,320.1V332.6M152.1,320.1h4.8M152.1,332.6h4.8M168.4,320.5V336.4M166.0,320.5h4.8M166.0,336.4h4.8M182.4,320.6V334M180.0,320.6h4.8M180.0,334h4.8M229.0,331V353.4M226.6,331h4.8M226.6,353.4h4.8M277.4,339.4V367.4M275.0,339.4h4.8M275.0,367.4h4.8M319.0,346.4V381.4M316.6,346.4h4.8M316.6,381.4h4.8M353.6,359.4V426.4M351.2,359.4h4.8M351.2,426.4h4.8" stroke="#666" stroke-width="0.6" fill="none"/>
<path d="M105.0,320.1l5.9,9.7h-11.8zM119.2,320.1l5.9,9.7h-11.8zM139.3,320.4l5.9,9.7h-11.8zM154.5,319.9l5.9,9.7h-11.8zM168.4,321.8l5.9,9.7h-11.8zM182.4,321.1l5.9,9.7h-11.8zM229.0,336.0l5.9,9.7h-11.8zM277.4,347.0l5.9,9.7h-11.8zM319.0,357.9l5.9,9.7h-11.8zM353.6,387.0l5.9,9.7h-11.8zM136.2,367.4l7.2,12.2h-14.4z" fill="#000"/>
<text x="68.01" y="260.00" font-size="32.6" textLength="15.89" lengthAdjust="spacingAndGlyphs">0</text>
<text x="52.12" y="201.75" font-size="32.6" textLength="31.79" lengthAdjust="spacingAndGlyphs">50</text>
<text x="36.22" y="143.50" font-size="32.6" textLength="47.68" lengthAdjust="spacingAndGlyphs">100</text>
<text x="36.22" y="85.25" font-size="32.6" textLength="47.68" lengthAdjust="spacingAndGlyphs">150</text>
<text x="36.22" y="27.00" font-size="32.6" textLength="47.68" lengthAdjust="spacingAndGlyphs">200</text>
<text x="44.17" y="492.60" font-size="32.6" textLength="39.73" lengthAdjust="spacingAndGlyphs">0.0</text>
<text x="44.17" y="430.57" font-size="32.6" textLength="39.73" lengthAdjust="spacingAndGlyphs">0.4</text>
<text x="44.17" y="368.55" font-size="32.6" textLength="39.73" lengthAdjust="spacingAndGlyphs">0.8</text>
<text x="44.17" y="306.52" font-size="32.6" textLength="39.73" lengthAdjust="spacingAndGlyphs">1.2</text>
<text x="118.60" y="519.10" font-size="32.6" textLength="31.79" lengthAdjust="spacingAndGlyphs">40</text>
<text x="201.37" y="519.10" font-size="32.6" textLength="31.79" lengthAdjust="spacingAndGlyphs">80</text>
<text x="276.21" y="519.10" font-size="32.6" textLength="47.68" lengthAdjust="spacingAndGlyphs">120</text>
<text x="358.98" y="519.10" font-size="32.6" textLength="47.68" lengthAdjust="spacingAndGlyphs">160</text>
<text x="441.85" y="519.10" font-size="32.6" textLength="46.93" lengthAdjust="spacingAndGlyphs" >200</text>
<text x="227.15" y="562.20" font-size="32" textLength="19.23" lengthAdjust="spacingAndGlyphs" >θ</text>
<text x="252.75" y="561.50" font-size="32.6" textLength="12.00" lengthAdjust="spacingAndGlyphs" >(</text>
<text x="264.12" y="562.20" font-size="32" textLength="30.99" lengthAdjust="spacingAndGlyphs" >de</text>
<text x="295.92" y="562.20" font-size="32" textLength="17.65" lengthAdjust="spacingAndGlyphs" >g</text>
<text x="313.15" y="561.50" font-size="32.6" textLength="12.00" lengthAdjust="spacingAndGlyphs" >)</text>
<text x="148.50" y="61.90" font-size="33.2" textLength="11.62" lengthAdjust="spacingAndGlyphs" >(</text>
<text x="159.66" y="62.80" font-size="35.3" textLength="14.46" lengthAdjust="spacingAndGlyphs" >a</text>
<text x="173.80" y="61.90" font-size="33.2" textLength="11.49" lengthAdjust="spacingAndGlyphs" >)</text>
<text x="148.87" y="288.30" font-size="33.2" textLength="11.87" lengthAdjust="spacingAndGlyphs" >(</text>
<text x="161.40" y="288.60" font-size="34.5" textLength="16.56" lengthAdjust="spacingAndGlyphs" >b</text>
<text x="176.16" y="288.30" font-size="33.2" textLength="11.87" lengthAdjust="spacingAndGlyphs" >)</text>
<text x="297.00" y="68.00" font-size="30" textLength="95.75" lengthAdjust="spacingAndGlyphs" >breakup</text>
<text x="254.84" y="102.00" font-size="29" textLength="16.47" lengthAdjust="spacingAndGlyphs" >E</text>
<text x="270.16" y="107.00" font-size="21" textLength="37.86" lengthAdjust="spacingAndGlyphs" >c.m.</text>
<path d="M307.5,91.4H321.4M307.5,97.6H321.4" stroke="#000" stroke-width="1.8"/>
<text x="328.11" y="102.00" font-size="29" textLength="112.00" lengthAdjust="spacingAndGlyphs" >26.4 MeV</text>
<text x="329.63" y="155.00" font-size="24.5" textLength="92.18" lengthAdjust="spacingAndGlyphs" >all coupl.</text>
<text x="329.96" y="187.70" font-size="24.5" textLength="79.99" lengthAdjust="spacingAndGlyphs" >no CCC</text>
<text x="245.37" y="284.50" font-size="24.5" textLength="176.74" lengthAdjust="spacingAndGlyphs" >elastic scattering</text>
<text x="277.09" y="310.30" font-size="22" textLength="13.27" lengthAdjust="spacingAndGlyphs" >E</text>
<text x="291.37" y="314.40" font-size="14.5" textLength="28.39" lengthAdjust="spacingAndGlyphs" >c.m.</text>
<path d="M319.4,302.5H331.8M319.4,307.4H331.8" stroke="#000" stroke-width="1.4"/>
<text x="338.36" y="310.30" font-size="22" textLength="98.21" lengthAdjust="spacingAndGlyphs" >20.8 MeV</text>
<text x="165.76" y="385.40" font-size="30.5" textLength="52.53" lengthAdjust="spacingAndGlyphs" >data</text>
<text x="165.48" y="424.50" font-size="30.5" textLength="118.59" lengthAdjust="spacingAndGlyphs" >all coupl.</text>
<text x="165.90" y="463.60" font-size="30.5" textLength="103.25" lengthAdjust="spacingAndGlyphs" >no CCC</text>
<g transform="translate(28.1,0) rotate(-90)">
<text x="-242.08" y="0.00" font-size="34" textLength="36.91" lengthAdjust="spacingAndGlyphs" >d<tspan stroke="#000" stroke-width="0.55">σ</tspan></text>
<text x="-204.88" y="5.80" font-size="14.5" textLength="18.96" lengthAdjust="spacingAndGlyphs" >BU</text>
<text x="-178.60" y="0.00" font-size="34" textLength="51.94" lengthAdjust="spacingAndGlyphs" >/d<tspan stroke="#000" stroke-width="0.4">Ω</tspan></text>
<text x="-119.83" y="-1.50" font-size="32.1" textLength="12.65" lengthAdjust="spacingAndGlyphs" >(</text>
<text x="-108.51" y="0.00" font-size="34" textLength="77.38" lengthAdjust="spacingAndGlyphs" >mb/sr</text>
<text x="-31.94" y="-1.50" font-size="32.1" textLength="11.87" lengthAdjust="spacingAndGlyphs" >)</text>
</g>
<g transform="translate(31.9,0) rotate(-90)">
<text x="-432.11" y="0.00" font-size="34" textLength="37.76" lengthAdjust="spacingAndGlyphs" >d<tspan stroke="#000" stroke-width="0.55">σ</tspan></text>
<text x="-385.80" y="0.00" font-size="34" textLength="45.82" lengthAdjust="spacingAndGlyphs" >/d<tspan stroke="#000" stroke-width="0.55">σ</tspan></text>
<text x="-339.48" y="4.80" font-size="14.5" textLength="37.28" lengthAdjust="spacingAndGlyphs" >RUTH</text>
</g>
</svg>
</body></html>
